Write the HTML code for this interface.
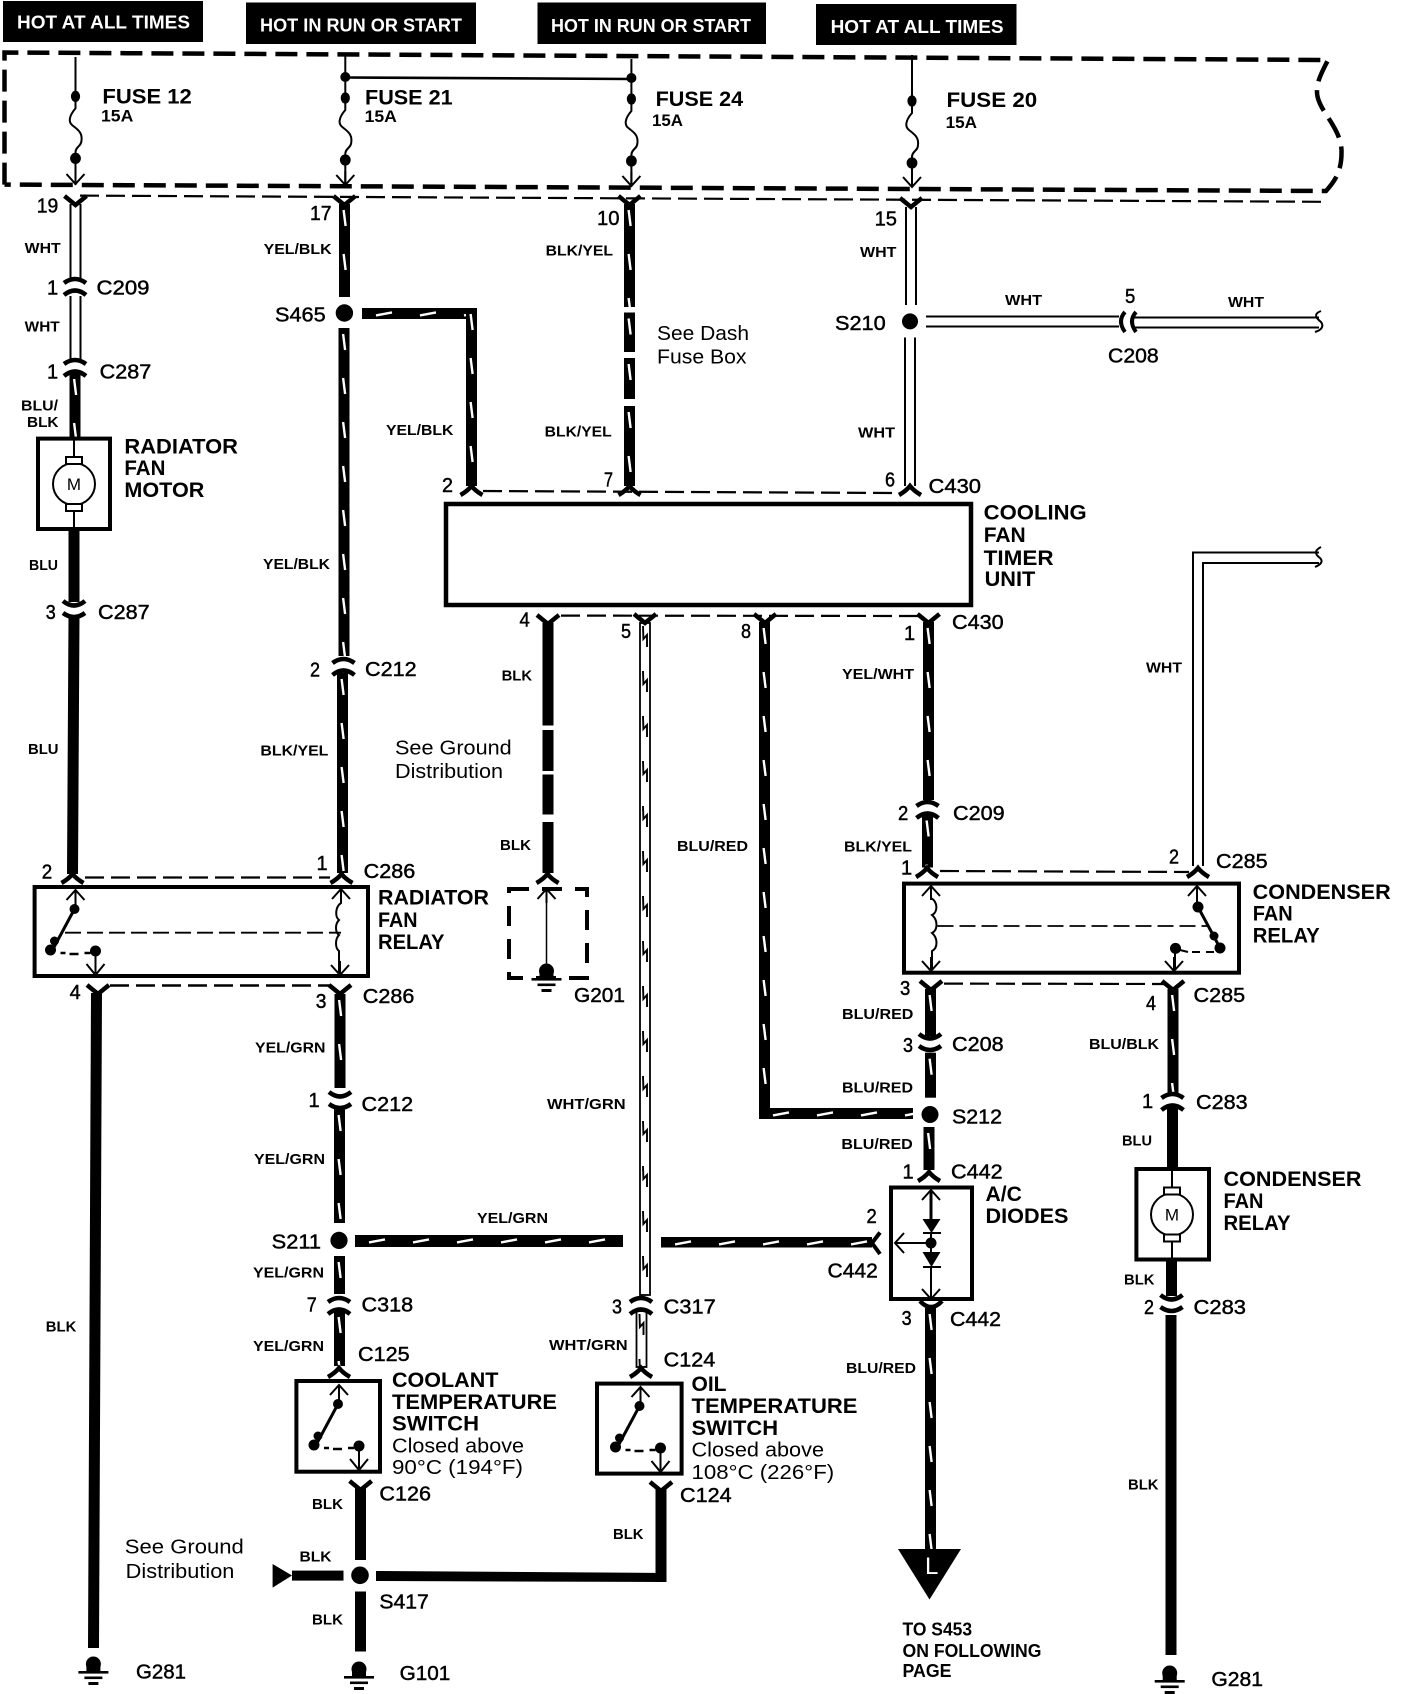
<!DOCTYPE html>
<html><head><meta charset="utf-8"><title>Cooling Fan Circuit</title>
<style>
html,body{margin:0;padding:0;background:#fff}
svg{display:block}
text{font-family:"Liberation Sans",sans-serif;fill:#000}
.w{font-size:15px;font-weight:700}
.c{font-size:20px;stroke:#000;stroke-width:.45}
.b{font-size:21px;font-weight:700}
.r{font-size:20px}
.h{font-size:18px;font-weight:700;fill:#fff}
.k{fill:#000}
.l{fill:none;stroke:#000;stroke-width:2}
.m{fill:none;stroke:#000;stroke-width:4}
.dash{fill:none;stroke:#000;stroke-width:4.5;stroke-dasharray:22 9}
.td{fill:none;stroke:#000;stroke-width:2.2;stroke-dasharray:19 7}
.rd{fill:none;stroke:#000;stroke-width:1.8;stroke-dasharray:16 6}
</style></head><body>
<svg xmlns="http://www.w3.org/2000/svg" width="1408" height="1694" viewBox="0 0 1408 1694">
<defs>
<pattern id="tv" patternUnits="userSpaceOnUse" width="11" height="44"><rect width="11" height="44" fill="#000"/><path d="M4.6,6 L6.6,22" stroke="#fff" stroke-width="2.4"/></pattern>
<pattern id="th" patternUnits="userSpaceOnUse" width="44" height="12"><rect width="44" height="12" fill="#000"/><path d="M14,7.4 L30,4.4" stroke="#fff" stroke-width="2.4"/></pattern>
<pattern id="tw" patternUnits="userSpaceOnUse" width="10" height="45"><rect width="10" height="45" fill="#fff"/><path d="M3,3 L3.4,16 L7,12 L7,24" fill="none" stroke="#000" stroke-width="1.9"/></pattern>
<g id="cu"><path d="M-11,-2 Q0,-10 11,-2 M-11,10 Q0,1 11,10" fill="none" stroke="#000" stroke-width="4.5"/></g>
<g id="cd"><path d="M-11,-10 Q0,-1 11,-10 M-11,2 Q0,10 11,2" fill="none" stroke="#000" stroke-width="4.5"/></g>
<g id="vy"><path d="M-11,-8 L0,1 L11,-8" fill="none" stroke="#000" stroke-width="4.5"/></g>
<g id="va"><path d="M-11,7 Q-4,3 0,-2 Q4,3 11,7" fill="none" stroke="#000" stroke-width="4.5"/></g>
<g id="au"><path d="M-9,10 L0,0 L9,10 M0,0 V14" fill="none" stroke="#000" stroke-width="2"/></g>
<g id="ad"><path d="M-9,-10 L0,0 L9,-10 M0,0 V-14" fill="none" stroke="#000" stroke-width="2"/></g>
<g id="gnd"><circle cx="0" cy="0" r="7.5" fill="#000"/><rect x="-7" y="0" width="14" height="7" fill="#000"/><rect x="-15" y="7" width="30" height="2.6"/><rect x="-9" y="12.5" width="18" height="2.6"/><rect x="-5" y="18" width="10" height="3"/></g>
<g id="sw"><path d="M0,2 V22" class="l"/><path d="M-9,12 L0,2 L9,12" class="l"/><circle cx="-1" cy="21" r="5"/><path d="M-1,21 L-23,62" stroke="#000" stroke-width="3" fill="none"/><circle cx="-21" cy="53" r="4.5"/><circle cx="-25" cy="62" r="5.5"/><path d="M-15,65 h5 M-6,66 h9 M9,65 h6" stroke="#000" stroke-width="2.5"/><circle cx="20" cy="63" r="5.5"/><path d="M20,63 V85 M11,76 L20,87 L29,76" class="l"/></g>
<g id="fuse"><path d="M0,0 V12 C-7,20 -7,26 -3,29 C2,33 7,36 6,44 C6,50 0,50 0,56 V62" fill="none" stroke="#000" stroke-width="2"/><ellipse cx="0" cy="0" rx="4.6" ry="5.6"/><ellipse cx="0" cy="62" rx="5.4" ry="5.6"/></g>
<g id="mot"><circle cx="0" cy="0" r="21" fill="#fff" stroke="#000" stroke-width="2"/><rect x="-8" y="-27" width="16" height="7" fill="#fff" stroke="#000" stroke-width="2"/><rect x="-8" y="20" width="16" height="7" fill="#fff" stroke="#000" stroke-width="2"/><path d="M0,-27 V-45 M0,27 V45" class="l"/><text x="0" y="6" text-anchor="middle" style="font-size:17px">M</text></g>
</defs>
<rect width="1408" height="1694" fill="#fff"/>

<!-- header tags -->
<rect x="3" y="1" width="200" height="41"/><rect x="246" y="2.5" width="230" height="41.5"/><rect x="537.5" y="2.5" width="228.5" height="41.5"/><rect x="816" y="4" width="200.5" height="41"/>
<text class="h" x="17" y="28.6" textLength="173" lengthAdjust="spacingAndGlyphs">HOT AT ALL TIMES</text>
<text class="h" x="260" y="31.4" textLength="202" lengthAdjust="spacingAndGlyphs">HOT IN RUN OR START</text>
<text class="h" x="551" y="32" textLength="200" lengthAdjust="spacingAndGlyphs">HOT IN RUN OR START</text>
<text class="h" x="830.6" y="33" textLength="173" lengthAdjust="spacingAndGlyphs">HOT AT ALL TIMES</text>

<!-- fuse box -->
<path class="dash" d="M4.5,184.6 V52.5 L1328,60 C1322,72 1317,80 1317,92 C1317,110 1340,125 1341.5,150 C1342,170 1336,180 1326,191 L4.5,184.6"/>
<path class="td" d="M80,195.6 L1323,201.8"/>
<path class="l" d="M75.5,57 V96 M75.5,158 V185 M345.3,52.5 V98 M345.3,160 V186 M631.4,59 V99 M631.4,161 V186.5 M912,55 V101 M912,163 V187.5"/>
<path d="M345.3,77.5 L631.4,79" stroke="#000" stroke-width="2.6"/>
<circle cx="345.3" cy="77" r="5"/><circle cx="631.4" cy="78" r="5"/>
<use href="#fuse" x="75.5" y="96.4"/><use href="#fuse" x="345.3" y="98"/><use href="#fuse" x="631.4" y="99"/><use href="#fuse" x="912" y="101"/>
<use href="#ad" x="75.5" y="184"/><use href="#ad" x="345.3" y="185"/><use href="#ad" x="631.4" y="186"/><use href="#ad" x="912" y="187"/>
<text class="b" x="102.4" y="103.6" textLength="89.4" lengthAdjust="spacingAndGlyphs">FUSE 12</text>
<text class="w" style="font-size:17px" x="101" y="121.4" textLength="32.3" lengthAdjust="spacingAndGlyphs">15A</text>
<text class="b" x="365" y="104.6" textLength="87.6" lengthAdjust="spacingAndGlyphs">FUSE 21</text>
<text class="w" style="font-size:17px" x="364.6" y="122" textLength="32.3" lengthAdjust="spacingAndGlyphs">15A</text>
<text class="b" x="655.6" y="106" textLength="87.6" lengthAdjust="spacingAndGlyphs">FUSE 24</text>
<text class="w" style="font-size:17px" x="652" y="126" textLength="31" lengthAdjust="spacingAndGlyphs">15A</text>
<text class="b" x="946.5" y="107" textLength="90.7" lengthAdjust="spacingAndGlyphs">FUSE 20</text>
<text class="w" style="font-size:17px" x="945.6" y="127.9" textLength="31.4" lengthAdjust="spacingAndGlyphs">15A</text>

<!-- column 1 radiator -->
<path class="l" d="M70.5,204 V278 M80.5,204 V278 M70.5,296 V360 M80.5,296 V360"/>
<rect transform="translate(69.5,373)" width="11" height="66" fill="url(#tv)"/>
<use href="#vy" x="75.5" y="204"/>
<use href="#cu" x="75" y="285"/><use href="#cu" x="75" y="366"/>
<rect x="38" y="438.6" width="72" height="90.4" fill="#fff" stroke="#000" stroke-width="4"/>
<use href="#mot" x="74" y="484"/>
<rect x="68.5" y="529" width="11" height="73"/>
<use href="#cd" x="74" y="611"/>
<polygon points="68.5,616 79.5,616 78,874 67,874"/>
<use href="#va" x="72.5" y="876"/>

<!-- column 2 -->
<rect transform="translate(339,204)" width="11" height="93" fill="url(#tv)"/>
<circle cx="344.4" cy="313" r="8.7"/>
<rect transform="translate(338.5,328)" width="11" height="328" fill="url(#tv)"/>
<rect transform="translate(337,673)" width="11" height="200" fill="url(#tv)"/>
<use href="#vy" x="344.4" y="204"/>
<use href="#cu" x="343.5" y="665"/>
<use href="#va" x="341.5" y="876"/>
<rect transform="translate(362,308)" width="115" height="11" fill="url(#th)"/>
<rect transform="translate(466,308)" width="11" height="178" fill="url(#tv)"/>
<use href="#va" x="471.5" y="488"/>

<!-- column 3 -->
<rect transform="translate(624,204)" width="11" height="103" fill="url(#tv)"/>
<rect transform="translate(624,312.5)" width="11" height="39.5" fill="url(#tv)"/>
<rect transform="translate(624,358)" width="11" height="41" fill="url(#tv)"/>
<rect transform="translate(624,406)" width="11" height="80" fill="url(#tv)"/>
<use href="#vy" x="629.5" y="204"/>
<use href="#va" x="629.5" y="488"/>

<!-- column 4 -->
<path class="l" d="M906,207 V305 M916,207 V305 M905,337.5 V486 M915,337.5 V486 M926,316.5 H1119 M926,326.5 H1119 M1133,317.5 H1319 M1133,327.5 H1319"/>
<use href="#vy" x="911" y="206"/>
<circle cx="910" cy="321.4" r="8"/>
<use href="#va" x="910" y="488"/>
<path d="M1125,312 Q1117,321 1125,332 M1136,312 Q1128,321 1136,332" fill="none" stroke="#000" stroke-width="4"/>
<path class="l" d="M1321,311 C1313,314 1316,318 1321,322 C1324,326 1322,330 1315,332"/>

<path class="td" d="M483,491 L892,493"/>

<!-- timer -->
<rect x="446" y="504" width="525" height="101" fill="#fff" stroke="#000" stroke-width="4.5"/>
<path class="td" d="M561,615.6 L920,616"/>

<!-- wire 4 BLK to G201 -->
<rect x="542.5" y="623" width="11" height="102.5"/>
<rect x="542.5" y="730" width="11" height="41"/>
<rect x="542.5" y="774.5" width="11" height="40"/>
<rect x="542.5" y="822" width="11" height="51"/>
<use href="#vy" x="548" y="623"/>
<use href="#va" x="547.5" y="876"/>
<rect class="dash" x="509" y="889" width="78" height="89" style="stroke-width:4;stroke-dasharray:20 13"/>
<use href="#au" x="546.5" y="889"/>
<path class="l" d="M546.5,889 V972" style="stroke-width:1.5"/>
<use href="#gnd" x="546.5" y="971"/>

<!-- wire 5 WHT/GRN -->
<rect transform="translate(640,623)" width="10" height="672" fill="url(#tw)" stroke="#000" stroke-width="1.8"/>
<rect transform="translate(636.5,1311)" width="10" height="56" fill="url(#tw)" stroke="#000" stroke-width="1.8"/>
<use href="#vy" x="645" y="622"/>
<use href="#cu" x="641" y="1304"/>
<use href="#va" x="641" y="1370"/>

<!-- wire 8 BLU/RED -->
<rect transform="translate(759,622)" width="11" height="491" fill="url(#tv)"/>
<rect transform="translate(759,1108)" width="154" height="11" fill="url(#th)"/>
<use href="#vy" x="765" y="622"/>

<!-- wire 1 -->
<rect transform="translate(923,622)" width="11" height="178" fill="url(#tv)"/>
<rect transform="translate(922,814.5)" width="11" height="53" fill="url(#tv)"/>
<use href="#vy" x="928.5" y="622"/>
<use href="#cu" x="927.5" y="808"/>
<use href="#va" x="927" y="870"/>
<path class="td" d="M940,871 L1189,872"/>
<!-- WHT right -->
<path class="l" d="M1319,552.5 H1193 V866 M1319,563 H1203 V866"/>
<path class="l" d="M1321,547 C1313,551 1316,555 1320,558 C1323,561 1322,564 1315,567"/>
<use href="#va" x="1198" y="870"/>

<!-- condenser relay -->
<rect x="904" y="883.6" width="335" height="89.1" fill="#fff" stroke="#000" stroke-width="4"/>
<use href="#au" x="931" y="886"/>
<path class="l" d="M931,886 V898 C938,902 938,912 932,915 C938,920 938,930 932,933 C938,938 938,948 932,951 V970"/>
<use href="#ad" x="931" y="971"/>
<path class="rd" d="M937.5,926 H1209"/>
<use href="#au" x="1197" y="886"/>
<path class="l" d="M1197,886 V905"/>
<circle cx="1198" cy="907" r="5.5"/><path d="M1198,907 L1219,946" stroke="#000" stroke-width="3"/>
<circle cx="1214" cy="936" r="4.5"/><circle cx="1220" cy="948" r="5.5"/>
<path d="M1180,950 L1188,952 M1192,952 h8 M1206,952 h8" stroke="#000" stroke-width="2"/>
<circle cx="1175.5" cy="948.4" r="5.5"/>
<path class="l" d="M1175,948 V970"/><use href="#ad" x="1174" y="971"/>
<path class="td" d="M944,983.6 L1166,984"/>
<use href="#vy" x="931" y="989"/><use href="#vy" x="1173" y="989"/>
<rect transform="translate(925,989)" width="11" height="47" fill="url(#tv)"/>
<use href="#cd" x="930" y="1044"/>
<rect transform="translate(925,1052.7)" width="11" height="45" fill="url(#tv)"/>
<circle cx="930" cy="1114.5" r="8.5"/>
<rect transform="translate(923.5,1127)" width="11" height="43" fill="url(#tv)"/>
<use href="#va" x="929" y="1174"/>

<!-- diodes -->
<rect x="891" y="1187.5" width="81" height="111.5" fill="#fff" stroke="#000" stroke-width="4"/>
<use href="#au" x="931" y="1190"/>
<path d="M931,1190 V1219" stroke="#000" stroke-width="3"/>
<polygon points="922.5,1219 940.5,1219 931.5,1233"/><path d="M923,1233 H941" class="l"/>
<circle cx="931" cy="1243" r="5.5"/>
<polygon points="922.5,1252 940.5,1252 931.5,1267"/><path d="M923,1267 H941" class="l"/>
<path class="l" d="M931,1233 V1252 M931,1267 V1297 M931,1243 H895 M904,1233 L895,1243 L904,1253"/>
<use href="#ad" x="931" y="1299"/>
<path d="M920,1301 Q931,1313 942,1301" fill="none" stroke="#000" stroke-width="4.5"/>
<rect transform="translate(925,1308)" width="11" height="241" fill="url(#tv)"/>
<polygon points="898,1549 961,1549 929.5,1599.5"/>
<text x="925" y="1574" style="font-size:24px;fill:#fff">L</text>

<!-- S211 branch -->
<rect transform="translate(355,1235)" width="268" height="12" fill="url(#th)"/>
<rect transform="translate(661,1237)" width="211" height="10.5" fill="url(#th)"/>
<path d="M880,1232.5 L872,1243 L880,1254" fill="none" stroke="#000" stroke-width="4"/>

<!-- radiator relay -->
<path class="td" d="M85,877.5 H330"/>
<rect x="34.6" y="887" width="333.4" height="89" fill="#fff" stroke="#000" stroke-width="4"/>
<use href="#sw" x="75.5" y="888"/>
<path class="rd" d="M65,932.7 H341"/>
<use href="#au" x="341" y="889"/>
<path class="l" d="M341,889 V903 C335,907 335,917 339,920 C335,924 335,932 339,935 C335,939 335,948 339,951 V972"/>
<use href="#ad" x="340" y="975"/>
<path class="td" d="M110,985.5 H330" style="stroke-width:2.6"/>
<use href="#vy" x="98" y="993"/><use href="#vy" x="340" y="993"/>

<!-- BLK left to G281 -->
<polygon points="91,993 102,993 99,1648 88,1648"/>
<use href="#gnd" x="93.4" y="1664"/>

<!-- C286 down -->
<rect transform="translate(334.5,994)" width="11" height="94" fill="url(#tv)"/>
<use href="#cd" x="340" y="1102"/>
<rect transform="translate(334,1109)" width="11" height="114" fill="url(#tv)"/>
<circle cx="339" cy="1240.4" r="8.6"/>
<rect transform="translate(334,1256)" width="11" height="38" fill="url(#tv)"/>
<use href="#cu" x="339" y="1304"/>
<rect transform="translate(334,1311)" width="11" height="55" fill="url(#tv)"/>
<use href="#va" x="339" y="1370"/>

<!-- switches -->
<rect x="296.4" y="1381" width="83.6" height="90.7" fill="#fff" stroke="#000" stroke-width="4"/>
<use href="#sw" x="339" y="1383"/>
<rect x="597" y="1383.6" width="84.6" height="90" fill="#fff" stroke="#000" stroke-width="4"/>
<use href="#sw" x="640.5" y="1385"/>

<!-- S417 -->
<use href="#vy" x="360.6" y="1489"/>
<rect x="355" y="1488" width="11" height="72"/>
<circle cx="360" cy="1575.3" r="8.8"/>
<rect x="355" y="1591.5" width="11" height="60"/>
<polygon points="272.6,1564 292,1575.5 272.6,1587.6"/>
<rect x="292" y="1570.6" width="51.5" height="10"/>
<polygon points="376,1571 665.5,1573 665.5,1582 376,1581"/>
<rect x="655.5" y="1488" width="11" height="94"/>
<use href="#vy" x="661" y="1490"/>
<use href="#gnd" x="359" y="1669"/>

<!-- cond wire -->
<rect transform="translate(1167.5,989)" width="11" height="104" fill="url(#tv)"/>
<use href="#cu" x="1172.5" y="1100"/>
<rect x="1167" y="1107" width="11" height="62"/>
<rect x="1136.4" y="1169" width="72.6" height="90.5" fill="#fff" stroke="#000" stroke-width="4"/>
<use href="#mot" x="1172" y="1214.5"/>
<rect x="1166" y="1259.5" width="11" height="36.5"/>
<use href="#cd" x="1171.5" y="1305"/>
<rect x="1165.5" y="1315" width="11" height="340"/>
<use href="#gnd" x="1169.7" y="1673"/>

<!-- wire colour labels -->
<g class="w">
<text class="w" x="24.7" y="253" textLength="36" lengthAdjust="spacingAndGlyphs">WHT</text>
<text class="w" x="24.7" y="331.4" textLength="35" lengthAdjust="spacingAndGlyphs">WHT</text>
<text class="w" x="21" y="410.7" textLength="37" lengthAdjust="spacingAndGlyphs">BLU/</text>
<text class="w" x="27" y="427" textLength="31.5" lengthAdjust="spacingAndGlyphs">BLK</text>
<text class="w" x="263.6" y="254" textLength="68" lengthAdjust="spacingAndGlyphs">YEL/BLK</text>
<text class="w" x="545.6" y="255.7" textLength="67.4" lengthAdjust="spacingAndGlyphs">BLK/YEL</text>
<text class="w" x="386" y="435" textLength="67.4" lengthAdjust="spacingAndGlyphs">YEL/BLK</text>
<text class="w" x="544.7" y="436.4" textLength="67" lengthAdjust="spacingAndGlyphs">BLK/YEL</text>
<text class="w" x="29" y="570" textLength="29" lengthAdjust="spacingAndGlyphs">BLU</text>
<text class="w" x="263" y="569" textLength="67" lengthAdjust="spacingAndGlyphs">YEL/BLK</text>
<text class="w" x="860" y="257" textLength="36.4" lengthAdjust="spacingAndGlyphs">WHT</text>
<text class="w" x="858" y="437.5" textLength="37" lengthAdjust="spacingAndGlyphs">WHT</text>
<text class="w" x="1005" y="305" textLength="37" lengthAdjust="spacingAndGlyphs">WHT</text>
<text class="w" x="1228" y="307" textLength="36" lengthAdjust="spacingAndGlyphs">WHT</text>
<text class="w" x="28" y="754" textLength="30.5" lengthAdjust="spacingAndGlyphs">BLU</text>
<text class="w" x="260.4" y="755.6" textLength="68" lengthAdjust="spacingAndGlyphs">BLK/YEL</text>
<text class="w" x="501.6" y="680.7" textLength="30.5" lengthAdjust="spacingAndGlyphs">BLK</text>
<text class="w" x="500" y="850" textLength="31" lengthAdjust="spacingAndGlyphs">BLK</text>
<text class="w" x="255" y="1052.7" textLength="70.5" lengthAdjust="spacingAndGlyphs">YEL/GRN</text>
<text class="w" x="547" y="1109" textLength="78.6" lengthAdjust="spacingAndGlyphs">WHT/GRN</text>
<text class="w" x="677" y="851" textLength="71" lengthAdjust="spacingAndGlyphs">BLU/RED</text>
<text class="w" x="842" y="679" textLength="72" lengthAdjust="spacingAndGlyphs">YEL/WHT</text>
<text class="w" x="844" y="851.6" textLength="68" lengthAdjust="spacingAndGlyphs">BLK/YEL</text>
<text class="w" x="1146" y="672.7" textLength="36" lengthAdjust="spacingAndGlyphs">WHT</text>
<text class="w" x="842" y="1019" textLength="71.4" lengthAdjust="spacingAndGlyphs">BLU/RED</text>
<text class="w" x="842" y="1092.7" textLength="71" lengthAdjust="spacingAndGlyphs">BLU/RED</text>
<text class="w" x="1089" y="1049" textLength="70" lengthAdjust="spacingAndGlyphs">BLU/BLK</text>
<text class="w" x="254" y="1164" textLength="71" lengthAdjust="spacingAndGlyphs">YEL/GRN</text>
<text class="w" x="477" y="1223" textLength="71" lengthAdjust="spacingAndGlyphs">YEL/GRN</text>
<text class="w" x="253" y="1277.5" textLength="71" lengthAdjust="spacingAndGlyphs">YEL/GRN</text>
<text class="w" x="253" y="1351" textLength="71" lengthAdjust="spacingAndGlyphs">YEL/GRN</text>
<text class="w" x="549" y="1350" textLength="78.6" lengthAdjust="spacingAndGlyphs">WHT/GRN</text>
<text class="w" x="45.8" y="1331.4" textLength="30.5" lengthAdjust="spacingAndGlyphs">BLK</text>
<text class="w" x="312" y="1509" textLength="31" lengthAdjust="spacingAndGlyphs">BLK</text>
<text class="w" x="299.5" y="1561.6" textLength="32" lengthAdjust="spacingAndGlyphs">BLK</text>
<text class="w" x="312" y="1624.6" textLength="31" lengthAdjust="spacingAndGlyphs">BLK</text>
<text class="w" x="613" y="1539" textLength="30.5" lengthAdjust="spacingAndGlyphs">BLK</text>
<text class="w" x="841.4" y="1149" textLength="71.4" lengthAdjust="spacingAndGlyphs">BLU/RED</text>
<text class="w" x="1122" y="1145.5" textLength="30" lengthAdjust="spacingAndGlyphs">BLU</text>
<text class="w" x="1124" y="1284.7" textLength="30.5" lengthAdjust="spacingAndGlyphs">BLK</text>
<text class="w" x="846" y="1373" textLength="70" lengthAdjust="spacingAndGlyphs">BLU/RED</text>
<text class="w" x="1128" y="1489.7" textLength="30.5" lengthAdjust="spacingAndGlyphs">BLK</text>
</g>

<!-- connector labels -->
<text class="c" x="96.5" y="294.6" textLength="53" lengthAdjust="spacingAndGlyphs">C209</text>
<text class="c" x="99.7" y="378.6" textLength="51.6" lengthAdjust="spacingAndGlyphs">C287</text>
<text class="c" x="36.8" y="212.5" textLength="21.5" lengthAdjust="spacingAndGlyphs">19</text>
<text class="c" x="47" y="294.6">1</text>
<text class="c" x="47" y="378.6">1</text>
<text class="c" x="310" y="220" textLength="21.5" lengthAdjust="spacingAndGlyphs">17</text>
<text class="c" x="597" y="225" textLength="22.5" lengthAdjust="spacingAndGlyphs">10</text>
<text class="c" x="442" y="492" textLength="11" lengthAdjust="spacingAndGlyphs">2</text>
<text class="c" x="604" y="486.4" textLength="9" lengthAdjust="spacingAndGlyphs">7</text>
<text class="c" x="275" y="321.4" textLength="50.7" lengthAdjust="spacingAndGlyphs">S465</text>
<text class="c" x="874.6" y="225.7" textLength="22.4" lengthAdjust="spacingAndGlyphs">15</text>
<text class="c" x="835" y="330" textLength="50.7" lengthAdjust="spacingAndGlyphs">S210</text>
<text class="c" x="1125" y="303" textLength="10.3" lengthAdjust="spacingAndGlyphs">5</text>
<text class="c" x="1108" y="362.5" textLength="50.7" lengthAdjust="spacingAndGlyphs">C208</text>
<text class="c" x="885" y="486.4" textLength="10" lengthAdjust="spacingAndGlyphs">6</text>
<text class="c" x="928.5" y="493" textLength="52.5" lengthAdjust="spacingAndGlyphs">C430</text>
<text class="c" x="45.8" y="619" textLength="10" lengthAdjust="spacingAndGlyphs">3</text>
<text class="c" x="98" y="619" textLength="51.6" lengthAdjust="spacingAndGlyphs">C287</text>
<text class="c" x="310" y="676.4" textLength="10" lengthAdjust="spacingAndGlyphs">2</text>
<text class="c" x="365" y="676" textLength="51.6" lengthAdjust="spacingAndGlyphs">C212</text>
<text class="c" x="41.8" y="878.5" textLength="10.5" lengthAdjust="spacingAndGlyphs">2</text>
<text class="c" x="316.5" y="870">1</text>
<text class="c" x="363.7" y="878" textLength="51.6" lengthAdjust="spacingAndGlyphs">C286</text>
<text class="c" x="69.6" y="999" textLength="11" lengthAdjust="spacingAndGlyphs">4</text>
<text class="c" x="315.7" y="1008" textLength="10.7" lengthAdjust="spacingAndGlyphs">3</text>
<text class="c" x="362.8" y="1003" textLength="51.6" lengthAdjust="spacingAndGlyphs">C286</text>
<text class="c" x="308.5" y="1107">1</text>
<text class="c" x="361.5" y="1111" textLength="51.6" lengthAdjust="spacingAndGlyphs">C212</text>
<text class="c" x="519.5" y="626.5" textLength="10.3" lengthAdjust="spacingAndGlyphs">4</text>
<text class="c" x="621" y="638" textLength="10" lengthAdjust="spacingAndGlyphs">5</text>
<text class="c" x="574" y="1002" textLength="51" lengthAdjust="spacingAndGlyphs">G201</text>
<text class="c" x="741" y="638" textLength="10" lengthAdjust="spacingAndGlyphs">8</text>
<text class="c" x="904" y="640">1</text>
<text class="c" x="952" y="629" textLength="51.6" lengthAdjust="spacingAndGlyphs">C430</text>
<text class="c" x="898" y="820" textLength="10.3" lengthAdjust="spacingAndGlyphs">2</text>
<text class="c" x="953" y="820" textLength="51.6" lengthAdjust="spacingAndGlyphs">C209</text>
<text class="c" x="901" y="874.5">1</text>
<text class="c" x="1169" y="863.6" textLength="10" lengthAdjust="spacingAndGlyphs">2</text>
<text class="c" x="1216" y="868" textLength="51.6" lengthAdjust="spacingAndGlyphs">C285</text>
<text class="c" x="900" y="995" textLength="10.3" lengthAdjust="spacingAndGlyphs">3</text>
<text class="c" x="1146" y="1010" textLength="10" lengthAdjust="spacingAndGlyphs">4</text>
<text class="c" x="1193.5" y="1002" textLength="51.6" lengthAdjust="spacingAndGlyphs">C285</text>
<text class="c" x="903" y="1052" textLength="10" lengthAdjust="spacingAndGlyphs">3</text>
<text class="c" x="952" y="1051" textLength="51.6" lengthAdjust="spacingAndGlyphs">C208</text>
<text class="c" x="952" y="1123.6" textLength="50" lengthAdjust="spacingAndGlyphs">S212</text>
<text class="c" x="1142" y="1108">1</text>
<text class="c" x="1196" y="1109" textLength="51.6" lengthAdjust="spacingAndGlyphs">C283</text>
<text class="c" x="271.7" y="1248.7" textLength="49.4" lengthAdjust="spacingAndGlyphs">S211</text>
<text class="c" x="306.7" y="1311.7" textLength="10" lengthAdjust="spacingAndGlyphs">7</text>
<text class="c" x="361.5" y="1311.7" textLength="51.6" lengthAdjust="spacingAndGlyphs">C318</text>
<text class="c" x="358" y="1361" textLength="51.6" lengthAdjust="spacingAndGlyphs">C125</text>
<text class="c" x="612" y="1313.5" textLength="10" lengthAdjust="spacingAndGlyphs">3</text>
<text class="c" x="663.7" y="1313.5" textLength="52" lengthAdjust="spacingAndGlyphs">C317</text>
<text class="c" x="663.7" y="1366.3" textLength="51.6" lengthAdjust="spacingAndGlyphs">C124</text>
<text class="c" x="379.4" y="1500.5" textLength="51.6" lengthAdjust="spacingAndGlyphs">C126</text>
<text class="c" x="680" y="1502" textLength="51.6" lengthAdjust="spacingAndGlyphs">C124</text>
<text class="c" x="379.4" y="1608.4" textLength="49.4" lengthAdjust="spacingAndGlyphs">S417</text>
<text class="c" x="136" y="1678.6" textLength="50" lengthAdjust="spacingAndGlyphs">G281</text>
<text class="c" x="399.6" y="1680" textLength="50.7" lengthAdjust="spacingAndGlyphs">G101</text>
<text class="c" x="951" y="1178.6" textLength="51.6" lengthAdjust="spacingAndGlyphs">C442</text>
<text class="c" x="902.5" y="1178.6">1</text>
<text class="c" x="866.5" y="1222.8" textLength="10.3" lengthAdjust="spacingAndGlyphs">2</text>
<text class="c" x="827.5" y="1277.5" textLength="50.3" lengthAdjust="spacingAndGlyphs">C442</text>
<text class="c" x="901.6" y="1325" textLength="10" lengthAdjust="spacingAndGlyphs">3</text>
<text class="c" x="950" y="1326" textLength="51" lengthAdjust="spacingAndGlyphs">C442</text>
<text class="c" x="1193.5" y="1314" textLength="52.5" lengthAdjust="spacingAndGlyphs">C283</text>
<text class="c" x="1144" y="1314" textLength="10" lengthAdjust="spacingAndGlyphs">2</text>
<text class="c" x="1211.4" y="1685.8" textLength="51.6" lengthAdjust="spacingAndGlyphs">G281</text>

<!-- component names -->
<text class="b" x="124.4" y="453.6" textLength="113.6" lengthAdjust="spacingAndGlyphs">RADIATOR</text>
<text class="b" x="124.4" y="475" textLength="41" lengthAdjust="spacingAndGlyphs">FAN</text>
<text class="b" x="124.4" y="497" textLength="80" lengthAdjust="spacingAndGlyphs">MOTOR</text>
<text class="r" x="657" y="340" textLength="92" lengthAdjust="spacingAndGlyphs">See Dash</text>
<text class="r" x="657" y="363.6" textLength="89.5" lengthAdjust="spacingAndGlyphs">Fuse Box</text>
<text class="b" x="983.7" y="519.6" textLength="103" lengthAdjust="spacingAndGlyphs">COOLING</text>
<text class="b" x="983.7" y="542" textLength="42" lengthAdjust="spacingAndGlyphs">FAN</text>
<text class="b" x="983.7" y="565" textLength="70" lengthAdjust="spacingAndGlyphs">TIMER</text>
<text class="b" x="984.6" y="586" textLength="50.7" lengthAdjust="spacingAndGlyphs">UNIT</text>
<text class="b" x="378" y="904.7" textLength="111" lengthAdjust="spacingAndGlyphs">RADIATOR</text>
<text class="b" x="378" y="927" textLength="39.5" lengthAdjust="spacingAndGlyphs">FAN</text>
<text class="b" x="378" y="949" textLength="66.5" lengthAdjust="spacingAndGlyphs">RELAY</text>
<text class="r" x="395" y="754.5" textLength="116.7" lengthAdjust="spacingAndGlyphs">See Ground</text>
<text class="r" x="395" y="778" textLength="108" lengthAdjust="spacingAndGlyphs">Distribution</text>
<text class="b" x="1252.7" y="899" textLength="138" lengthAdjust="spacingAndGlyphs">CONDENSER</text>
<text class="b" x="1252.7" y="920.7" textLength="40" lengthAdjust="spacingAndGlyphs">FAN</text>
<text class="b" x="1252.7" y="942.5" textLength="67" lengthAdjust="spacingAndGlyphs">RELAY</text>
<text class="b" x="985.5" y="1201" textLength="36.4" lengthAdjust="spacingAndGlyphs">A/C</text>
<text class="b" x="985.5" y="1222.8" textLength="83" lengthAdjust="spacingAndGlyphs">DIODES</text>
<text class="b" x="1223.5" y="1185.8" textLength="138" lengthAdjust="spacingAndGlyphs">CONDENSER</text>
<text class="b" x="1223.5" y="1208" textLength="40" lengthAdjust="spacingAndGlyphs">FAN</text>
<text class="b" x="1223.5" y="1230" textLength="67" lengthAdjust="spacingAndGlyphs">RELAY</text>
<text class="b" x="392" y="1387" textLength="106.4" lengthAdjust="spacingAndGlyphs">COOLANT</text>
<text class="b" x="392" y="1408.8" textLength="165" lengthAdjust="spacingAndGlyphs">TEMPERATURE</text>
<text class="b" x="392" y="1430.7" textLength="87" lengthAdjust="spacingAndGlyphs">SWITCH</text>
<text class="r" x="392" y="1452.7" textLength="132" lengthAdjust="spacingAndGlyphs">Closed above</text>
<text class="r" x="392" y="1474" textLength="131" lengthAdjust="spacingAndGlyphs">90°C (194°F)</text>
<text class="b" x="691.5" y="1390.8" textLength="35" lengthAdjust="spacingAndGlyphs">OIL</text>
<text class="b" x="691.5" y="1413" textLength="166" lengthAdjust="spacingAndGlyphs">TEMPERATURE</text>
<text class="b" x="691.5" y="1435" textLength="86.6" lengthAdjust="spacingAndGlyphs">SWITCH</text>
<text class="r" x="691.5" y="1456.6" textLength="132.5" lengthAdjust="spacingAndGlyphs">Closed above</text>
<text class="r" x="691.5" y="1479" textLength="142.7" lengthAdjust="spacingAndGlyphs">108°C (226°F)</text>
<text class="r" x="124.8" y="1553.7" textLength="119" lengthAdjust="spacingAndGlyphs">See Ground</text>
<text class="r" x="125.7" y="1578" textLength="108.7" lengthAdjust="spacingAndGlyphs">Distribution</text>
<text class="w" style="font-size:18px" x="902.5" y="1635.4" textLength="69.6" lengthAdjust="spacingAndGlyphs">TO S453</text>
<text class="w" style="font-size:18px" x="902.5" y="1657" textLength="139" lengthAdjust="spacingAndGlyphs">ON FOLLOWING</text>
<text class="w" style="font-size:18px" x="902.5" y="1676.8" textLength="49" lengthAdjust="spacingAndGlyphs">PAGE</text>
</svg>
</body></html>
